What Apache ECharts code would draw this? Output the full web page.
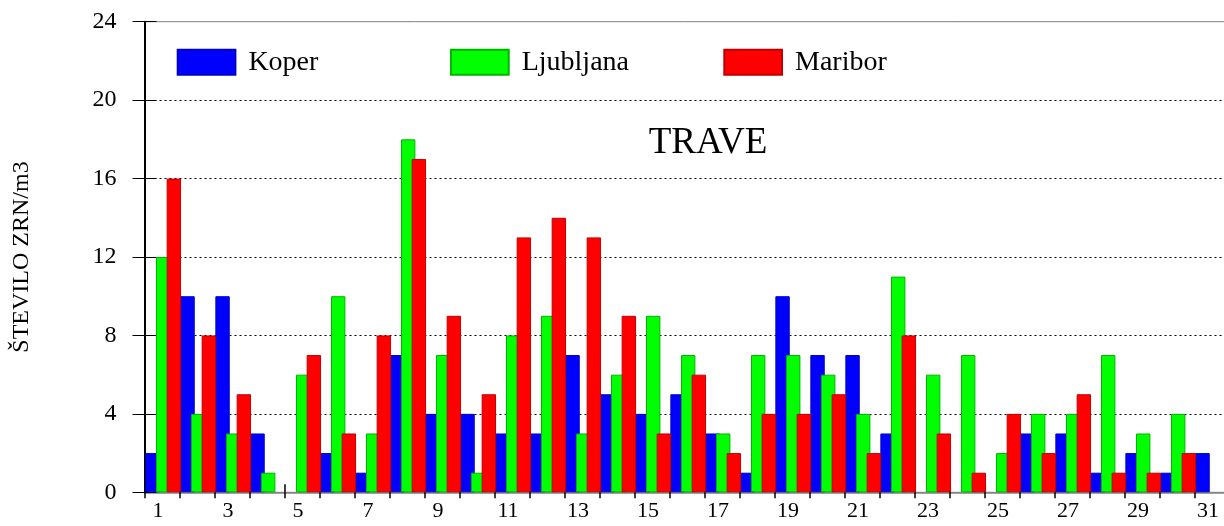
<!DOCTYPE html>
<html>
<head>
<meta charset="utf-8">
<script src="https://cdn.jsdelivr.net/npm/echarts@6/dist/echarts.min.js"></script>
<style>
  html, body { margin: 0; padding: 0; background: #fff; }
  #chart { width: 1224px; height: 526px; }
</style>
</head>
<body>
<div id="chart"></div>
<script>
// Daily grass pollen counts (grains per m3) for one month, three stations.
const days = Array.from({ length: 31 }, (_, i) => String(i + 1));
const koper     = [2, 10, 10, 3, 0, 2, 1, 7, 4, 4, 3, 3, 7, 5, 4, 5, 3, 1, 10, 7, 7, 3, 0, 0, 0, 3, 3, 1, 2, 1, 2];
const ljubljana = [12, 4, 3, 1, 6, 10, 3, 18, 7, 1, 8, 9, 3, 6, 9, 7, 3, 7, 7, 6, 4, 11, 6, 7, 2, 4, 4, 7, 3, 4, 0];
const maribor   = [16, 8, 5, 0, 7, 3, 8, 17, 9, 5, 13, 14, 13, 9, 3, 6, 2, 4, 4, 5, 2, 8, 3, 1, 4, 2, 5, 1, 1, 2, 0];
const yTicks = { min: 0, max: 24, interval: 4 };

const FONT = "'Liberation Serif', 'Times New Roman', serif";

const stations = [
  { name: 'Koper',     data: koper,     color: '#0000ff', border: '#0000c8' },
  { name: 'Ljubljana', data: ljubljana, color: '#00ff00', border: '#00b400' },
  { name: 'Maribor',   data: maribor,   color: '#ff0000', border: '#c00000' }
];

// left edge of each legend swatch (legend box has 5px padding)
const legendLeft = [171.7, 445, 718.3];

const PLOT = { left: 144.5, top: 21.7, width: 1085, height: 470.6 };
// the bar groups sit a little right of the day cells
const BAR_SHIFT = 1.2;

const chart = echarts.init(document.getElementById('chart'), null, { renderer: 'canvas' });

chart.setOption({
  animation: false,
  backgroundColor: '#fff',
  title: {
    text: 'TRAVE',
    left: 703,
    textAlign: 'center',
    top: 120,
    textStyle: { fontFamily: FONT, fontSize: 37, fontWeight: 'normal', color: '#000' }
  },
  legend: stations.map((s, i) => ({
    data: [s.name],
    left: legendLeft[i],
    top: 43.3,
    itemWidth: 57.7,
    itemHeight: 25,
    icon: 'rect',
    selectedMode: false,
    textStyle: { fontFamily: FONT, fontSize: 28, color: '#000', padding: [0, 0, 0, 8] }
  })),
  grid: [
    {
      left: PLOT.left,
      top: PLOT.top,
      width: PLOT.width,
      height: PLOT.height,
      outerBoundsMode: 'none',
      containLabel: false,
      show: true,
      borderColor: '#808080',
      borderWidth: 1,
      backgroundColor: 'transparent'
    },
    {
      // bar layer
      left: PLOT.left + BAR_SHIFT,
      top: PLOT.top,
      width: PLOT.width,
      height: PLOT.height,
      outerBoundsMode: 'none',
      containLabel: false,
      show: false
    }
  ],
  xAxis: [
    {
      type: 'category',
      gridIndex: 0,
      data: days,
      position: 'bottom',
      boundaryGap: true,
      axisLine: { show: true, lineStyle: { color: '#808080', width: 1.5 } },
      axisTick: { show: true, interval: 0, length: 6, lineStyle: { color: '#000', width: 1.5 } },
      axisLabel: {
        interval: 1,
        margin: 8,
        fontFamily: FONT,
        fontSize: 22,
        color: '#000',
        padding: [0, 8, 0, 0]
      },
      splitLine: { show: false }
    },
    {
      // inner half of the crossing day ticks
      type: 'category',
      gridIndex: 0,
      data: days,
      position: 'bottom',
      boundaryGap: true,
      axisLine: { show: false },
      axisTick: { show: true, inside: true, interval: 0, length: 8, lineStyle: { color: '#000', width: 1.5 } },
      axisLabel: { show: false },
      splitLine: { show: false }
    },
    {
      type: 'category',
      gridIndex: 1,
      data: days,
      boundaryGap: true,
      show: false
    }
  ],
  yAxis: [
    {
      type: 'value',
      gridIndex: 0,
      min: yTicks.min,
      max: yTicks.max,
      interval: yTicks.interval,
      name: 'ŠTEVILO ZRN/m3',
      nameLocation: 'middle',
      nameRotate: 90,
      nameGap: 111,
      nameTextStyle: { fontFamily: FONT, fontSize: 24, color: '#000' },
      axisLine: { show: true, lineStyle: { color: '#000', width: 2 } },
      axisTick: { show: true, length: 12, lineStyle: { color: '#000', width: 1 } },
      axisLabel: { margin: 28, fontFamily: FONT, fontSize: 24, color: '#000' },
      splitLine: {
        show: true,
        showMinLine: false,
        showMaxLine: false,
        lineStyle: { color: '#000', width: 1, type: [2, 3] }
      }
    },
    {
      // inner half of the crossing value ticks
      type: 'value',
      gridIndex: 0,
      position: 'left',
      min: yTicks.min,
      max: yTicks.max,
      interval: yTicks.interval,
      axisLine: { show: false },
      axisTick: { show: true, inside: true, length: 12, lineStyle: { color: '#000', width: 1 } },
      axisLabel: { show: false },
      splitLine: { show: false }
    },
    {
      type: 'value',
      gridIndex: 1,
      min: yTicks.min,
      max: yTicks.max,
      interval: yTicks.interval,
      show: false,
      splitLine: { show: false }
    }
  ],
  series: stations.map(s => ({
    name: s.name,
    type: 'bar',
    xAxisIndex: 2,
    yAxisIndex: 2,
    // days with no grains get no bar at all
    data: s.data.map(v => (v === 0 ? null : v)),
    barWidth: 14.4,
    barGap: '-26%',
    itemStyle: { color: s.color, borderColor: s.border, borderWidth: 1 },
    emphasis: { disabled: true }
  }))
});
</script>
</body>
</html>
